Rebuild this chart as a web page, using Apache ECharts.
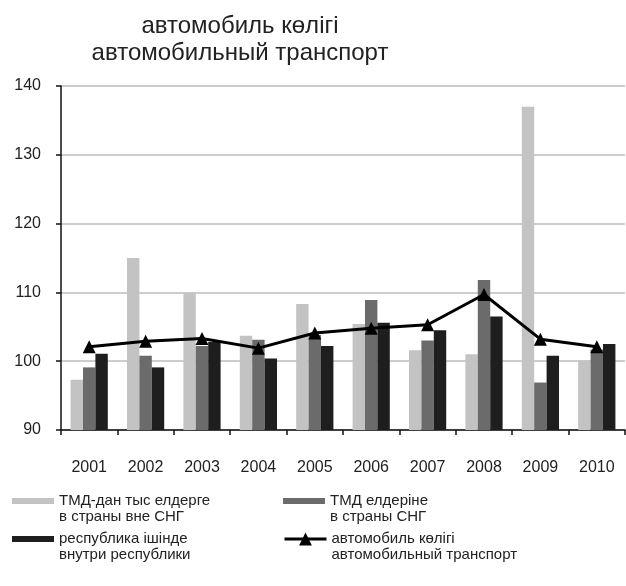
<!DOCTYPE html>
<html>
<head>
<meta charset="utf-8">
<script src="https://cdn.jsdelivr.net/npm/echarts@6/dist/echarts.min.js"></script>
<style>
  html, body { margin: 0; padding: 0; background: #fff; }
  #chart { width: 626px; height: 586px; }
</style>
</head>
<body>
<div id="chart"></div>
<script>
// data
const years = ['2001', '2002', '2003', '2004', '2005', '2006', '2007', '2008', '2009', '2010'];
const outsideCis = [97.3, 115.0, 110.0, 103.7, 108.3, 105.4, 101.6, 101.0, 137.0, 100.1];
const cisCountries = [99.1, 100.8, 102.2, 103.1, 103.8, 108.9, 103.0, 111.8, 96.9, 101.7];
const domestic = [101.1, 99.1, 102.8, 100.4, 102.2, 105.6, 104.5, 106.5, 100.8, 102.5];
const roadTotal = [102.1, 102.9, 103.3, 101.9, 104.1, 104.8, 105.3, 109.7, 103.2, 102.1];
const yTicks = [90, 100, 110, 120, 130, 140];

const names = [
  'ТМД-дан тыс елдерге\nв страны вне СНГ',
  'ТМД елдеріне\nв страны СНГ',
  'республика ішінде\nвнутри республики',
  'автомобиль көлігі\nавтомобильный транспорт'
];

const font = 'Liberation Sans, Arial, sans-serif';
const textColor = '#222';

const chartDom = document.getElementById('chart');
const myChart = echarts.init(chartDom);

// blank first line so the icon sits level with the first text line
const makeLegend = (name, left, top, isLine) => ({
  data: [name],
  left: left,
  top: top,
  orient: 'vertical',
  selectedMode: false,
  padding: 0,
  itemWidth: 42,
  itemHeight: isLine ? 16 : 6,
  icon: isLine ? undefined : 'rect',
  lineStyle: isLine ? { width: 3, color: '#000' } : undefined,
  formatter: n => '\n' + n,
  textStyle: {
    fontFamily: font,
    fontSize: 15,
    color: textColor,
    lineHeight: 16
  }
});

const option = {
  backgroundColor: '#fff',
  animation: false,
  title: {
    text: 'автомобиль көлігі\nавтомобильный транспорт',
    left: 235,
    top: 8,
    textAlign: 'center',
    textStyle: {
      fontFamily: font,
      fontSize: 24,
      fontWeight: 'normal',
      color: textColor,
      lineHeight: 27
    }
  },
  legend: [
    makeLegend(names[0], 12, 477, false),
    makeLegend(names[1], 283, 477, false),
    makeLegend(names[2], 12, 515, false),
    makeLegend(names[3], 283, 515, true)
  ],
  grid: {
    left: 61,
    right: 1,
    top: 86,
    bottom: 156
  },
  xAxis: {
    type: 'category',
    data: years,
    boundaryGap: true,
    axisLine: { lineStyle: { color: '#111', width: 1.5 } },
    axisTick: { show: true, length: 5, inside: false, lineStyle: { color: '#111', width: 1.5 } },
    axisLabel: {
      margin: 30,
      fontFamily: font,
      fontSize: 16,
      color: textColor
    }
  },
  yAxis: {
    type: 'value',
    min: yTicks[0],
    max: yTicks[yTicks.length - 1],
    interval: 10,
    axisLine: { show: true, lineStyle: { color: '#111', width: 1.5 } },
    axisTick: { show: true, length: 5, lineStyle: { color: '#111', width: 1.5 } },
    axisLabel: {
      margin: 20,
      fontFamily: font,
      fontSize: 16,
      color: textColor
    },
    splitLine: { lineStyle: { color: '#bdbdbd', width: 1.5 } }
  },
  series: [
    {
      name: names[0],
      type: 'bar',
      data: outsideCis,
      barGap: '0%',
      barCategoryGap: '34%',
      itemStyle: { color: '#c3c3c3' }
    },
    {
      name: names[1],
      type: 'bar',
      data: cisCountries,
      itemStyle: { color: '#6b6b6b' }
    },
    {
      name: names[2],
      type: 'bar',
      data: domestic,
      itemStyle: { color: '#1e1e1e' }
    },
    {
      name: names[3],
      type: 'line',
      data: roadTotal,
      symbol: 'triangle',
      symbolSize: 13,
      lineStyle: { color: '#000', width: 3 },
      itemStyle: { color: '#000' },
      z: 5
    }
  ]
};

myChart.setOption(option);
</script>
</body>
</html>
